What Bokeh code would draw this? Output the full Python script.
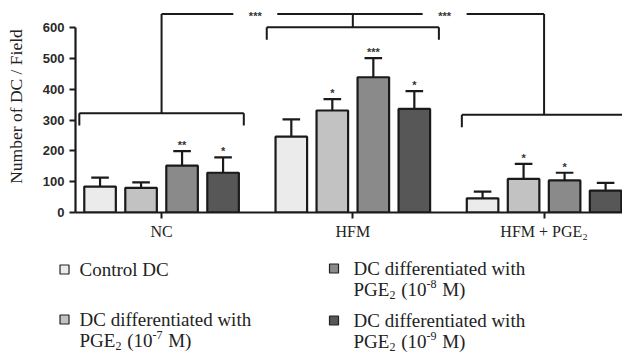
from bokeh.plotting import figure
from bokeh.models import Range1d, FixedTicker, ColumnDataSource
from bokeh.core.properties import value
from bokeh.embed import file_html
from bokeh.resources import INLINE

# ---------------- data ----------------
groups = ["NC", "HFM", "HFM + PGE\u2082"]
series = ["Control DC",
          "DC differentiated with PGE2 (10-7 M)",
          "DC differentiated with PGE2 (10-8 M)",
          "DC differentiated with PGE2 (10-9 M)"]
control_dc = [84, 246, 46]
pge_1e7 = [80, 331, 109]
pge_1e8 = [152, 439, 104]
pge_1e9 = [129, 336, 71]
control_err = [29, 56, 22]
pge_1e7_err = [18, 37, 49]
pge_1e8_err = [47, 62, 25]
pge_1e9_err = [50, 58, 25]
control_sig = ["", "", ""]
pge_1e7_sig = ["", "*", "*"]
pge_1e8_sig = ["**", "***", "*"]
pge_1e9_sig = ["*", "*", ""]
y_ticks = [0, 100, 200, 300, 400, 500, 600]
# group brackets (height of bracket per group) and comparison line
bracket_y = [322, 601, 317]
compare_y = 644
compare_text = ["***", "***"]

colors = ["#ebebeb", "#c2c2c2", "#8a8a8a", "#575757"]
means = [control_dc, pge_1e7, pge_1e8, pge_1e9]
errs = [control_err, pge_1e7_err, pge_1e8_err, pge_1e9_err]
sigs = [control_sig, pge_1e7_sig, pge_1e8_sig, pge_1e9_sig]

INK = "#1a1a1a"
SERIF = "Liberation Serif"
PITCH = 0.2144
BAR_W = 0.165
CAP = 0.046

p = figure(width=622, height=248, output_backend="svg", toolbar_location=None,
           x_range=Range1d(-0.45, 2.41), y_range=Range1d(0, 688),
           min_border_left=75, min_border_right=0, min_border_top=0,
           min_border_bottom=36)
p.outline_line_color = None
p.xgrid.grid_line_color = None
p.ygrid.grid_line_color = None
p.background_fill_color = "white"
p.border_fill_color = "white"

for j in range(4):
    xs = [g + (j - 1.5) * PITCH for g in range(3)]
    tops = means[j]
    ups = [t + e for t, e in zip(tops, errs[j])]
    src = ColumnDataSource(dict(x=xs, top=tops, up=ups,
                                xl=[x - CAP for x in xs], xr=[x + CAP for x in xs],
                                sy=[u + 20 for u in ups], sig=sigs[j]))
    p.segment(x0="x", y0="top", x1="x", y1="up", source=src, line_color=INK, line_width=2.2)
    p.segment(x0="xl", y0="up", x1="xr", y1="up", source=src, line_color=INK, line_width=2.2)
    p.vbar(x="x", width=BAR_W, top="top", bottom=0, source=src,
           fill_color=colors[j], line_color=INK, line_width=2.2)
    p.text(x="x", y="sy", text="sig", source=src, text_align="center",
           text_baseline="middle", text_font=value("Liberation Sans"),
           text_font_size="11px", text_font_style="bold", text_color="#333333")

# group brackets
half = [0.43, 0.45, 0.43]
leg = 40
for g in range(3):
    by = bracket_y[g]
    p.segment(x0=[g - half[g]], y0=[by], x1=[g + half[g] if g < 2 else 2.6], y1=[by],
              line_color=INK, line_width=2)
    p.segment(x0=[g - half[g], g + half[g]], y0=[by, by], x1=[g - half[g], g + half[g]],
              y1=[by - leg, by - leg], line_color=INK, line_width=2)
    p.segment(x0=[g], y0=[by], x1=[g], y1=[compare_y], line_color=INK, line_width=2)

# comparison line with gaps for the stars
gap = 0.115
mids = [0.49, 1.48]
p.segment(x0=[0, mids[0] + gap, mids[1] + gap], y0=[compare_y] * 3,
          x1=[mids[0] - gap, mids[1] - gap, 2], y1=[compare_y] * 3,
          line_color=INK, line_width=2)
p.text(x=mids, y=[compare_y - 6] * 2, text=compare_text, text_align="center",
       text_baseline="middle", text_font=value("Liberation Sans"),
       text_font_size="11px", text_font_style="bold", text_color="#333333")

# axes
p.yaxis.ticker = FixedTicker(ticks=y_ticks)
p.yaxis.bounds = (0, 600)
p.yaxis.axis_line_width = 2.2
p.yaxis.axis_line_color = INK
p.yaxis.major_tick_line_width = 2
p.yaxis.major_tick_line_color = INK
p.yaxis.major_tick_in = 0
p.yaxis.major_tick_out = 6
p.yaxis.minor_tick_line_color = None
p.yaxis.major_label_standoff = 5
p.yaxis.major_label_text_font = "Liberation Sans"
p.yaxis.major_label_text_font_style = "bold"
p.yaxis.major_label_text_font_size = "13px"
p.yaxis.major_label_text_color = "#2a2a2a"
p.yaxis.axis_label = "Number of DC / Field"
p.yaxis.axis_label_text_font = SERIF
p.yaxis.axis_label_text_font_style = "normal"
p.yaxis.axis_label_text_font_size = "17.5px"
p.yaxis.axis_label_text_color = "#222222"
p.yaxis.axis_label_standoff = 14

p.xaxis.ticker = FixedTicker(ticks=[0, 1, 2])
p.xaxis.major_label_overrides = {i: groups[i] for i in range(3)}
p.xaxis.axis_line_width = 2.2
p.xaxis.axis_line_color = INK
p.xaxis.major_tick_line_width = 2
p.xaxis.major_tick_line_color = INK
p.xaxis.major_tick_in = 0
p.xaxis.major_tick_out = 6
p.xaxis.minor_tick_line_color = None
p.xaxis.major_label_standoff = 4
p.xaxis.major_label_text_font = SERIF
p.xaxis.major_label_text_font_size = "16px"
p.xaxis.major_label_text_color = "#222222"

# ---------------- legend panel (page pixel coordinates) ----------------
lg = figure(width=622, height=104, output_backend="svg", toolbar_location=None,
            x_range=Range1d(0, 622), y_range=Range1d(352, 248),
            min_border_left=0, min_border_right=0, min_border_top=0, min_border_bottom=0)
lg.outline_line_color = None
lg.axis.visible = False
lg.xgrid.grid_line_color = None
lg.ygrid.grid_line_color = None

W = {"P": .556, "G": .722, "E": .611, " ": .25, "(": .333, ")": .333, "M": .889,
     "-": .333, "0": .5, "1": .5, "2": .5, "7": .5, "8": .5, "9": .5}
BIG, SMALL = 19, 12


def width(s, size):
    return sum(W.get(c, .5) for c in s) * size


runs = {"x": [], "y": [], "t": [], "fs": []}


def add_rich(x0, y, parts):
    # parts: (text, kind); kind 0 normal, 1 subscript, 2 superscript, 3 space
    x = x0
    for txt, kind in parts:
        if kind == 3:
            x += BIG * W[" "]
            continue
        size = BIG if kind == 0 else SMALL
        dy = 0 if kind == 0 else (5 if kind == 1 else -6)
        runs["x"].append(x)
        runs["y"].append(y + dy)
        runs["t"].append(txt)
        runs["fs"].append(f"{size}px")
        x += width(txt, size) + (1 if kind else 0)


lx = [79, 79, 353, 353]
sq_x = [64, 64, 333.5, 333.5]
row1 = [269, 319, 268, 320]
exps = [None, "-7", "-8", "-9"]
for j in range(4):
    if exps[j] is None:
        add_rich(lx[j], row1[j], [("Control DC", 0)])
    else:
        add_rich(lx[j], row1[j], [("DC differentiated with", 0)])
        add_rich(lx[j], row1[j] + 21, [("PGE", 0), ("2", 1), ("", 3), ("(10", 0),
                                        (exps[j], 2), ("", 3), ("M)", 0)])

lg.scatter(x=sq_x, y=row1, marker="square", size=9,
           fill_color=colors, line_color="#222222", line_width=1.2)
lg.text(x="x", y="y", text="t", text_font_size="fs", source=ColumnDataSource(runs),
        text_align="left", text_baseline="middle", text_font=value(SERIF),
        text_color="#222222")

open("out.html", "w").write(file_html([p, lg], INLINE))
